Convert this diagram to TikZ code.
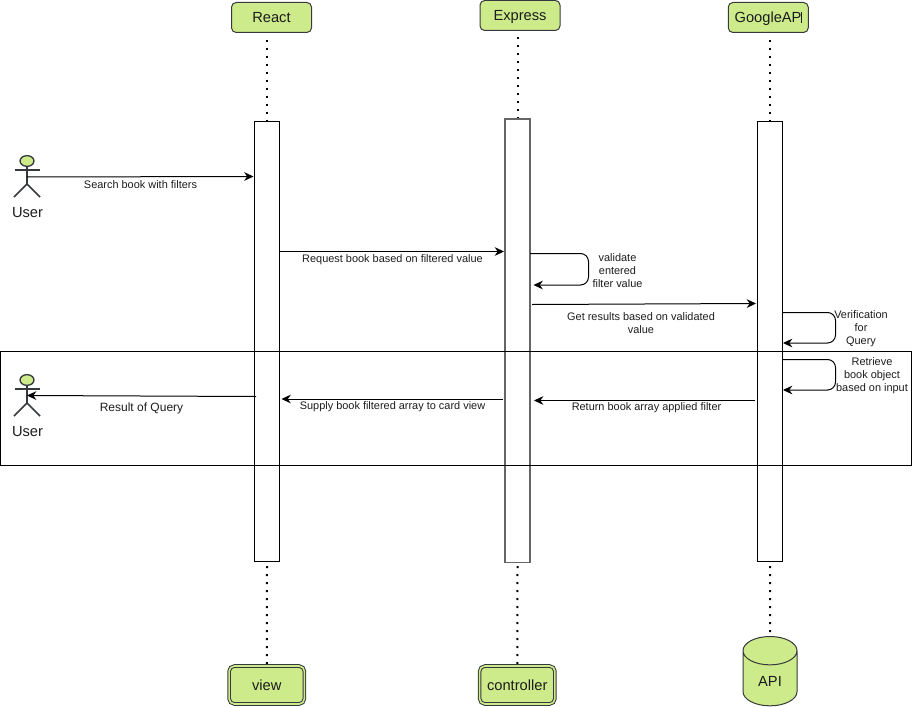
\documentclass[tikz,border=0pt]{standalone}
\usepackage{fontspec}
\setmainfont{Liberation Sans}
\usetikzlibrary{arrows.meta,shapes.geometric}
\definecolor{limefill}{HTML}{CDEB8B}
\definecolor{edgedark}{HTML}{36393D}
\definecolor{txt}{HTML}{1C1C1C}
\tikzset{
  px/.style={x=0.75pt,y=-0.75pt},
  base/.style={line width=0.75pt},
  head/.style={base,draw=edgedark,fill=limefill,rounded corners=3.5pt,minimum width=60pt,minimum height=22.5pt,inner sep=0pt,text=txt,font=\fontsize{11}{13}\selectfont,text height=8pt,text depth=0pt},
  tail/.style={base,draw=edgedark,fill=limefill,double=limefill,double distance=1.2pt,rounded corners=4pt,minimum width=56.5pt,minimum height=28.5pt,inner sep=0pt,text=txt,font=\fontsize{11}{13}\selectfont,text height=8pt,text depth=0pt},
  bar/.style={base,draw=black,fill=white,minimum width=18.75pt,inner sep=0pt,anchor=north},
  life/.style={line width=1.5pt,black,dash pattern=on 1.5pt off 4.5pt},
  msg/.style={base,black,-{Stealth[length=7pt,width=6.5pt]}},
  loopmsg/.style={msg,rounded corners=6pt},
  lab/.style={text=txt,font=\fontsize{8.2}{9.75}\selectfont,align=center,inner sep=0pt},
  stick/.style={line width=1.2pt,edgedark},
  actorname/.style={text=txt,font=\fontsize{11}{13}\selectfont,inner sep=0pt},
}
\begin{document}
\begin{tikzpicture}[px]
\useasboundingbox (0,0) rectangle (912,706);
% heads
\node[head] (react) at (271.5,17.5) {React};
\node[head] (express) at (520,15.5) {Express};
\node[head] (google) at (768.25,17.5) {GoogleAP\rule{0.3pt}{8pt}};
% activation bars
\node[bar,minimum height=329.6pt] (barR) at (267,121.5) {};
\node[bar,draw=black!60!white,line width=1pt,minimum height=332.6pt] (barE) at (517.5,118.5) {};
\node[bar,minimum height=329.6pt] (barG) at (770,121.5) {};
% tails
\node[tail] (view) at (266.75,685) {view};
\node[tail] (controller) at (517.25,685) {controller};
\node[cylinder,shape border rotate=90,aspect=1.2,base,draw=edgedark,fill=limefill,minimum width=40.5pt,minimum height=52pt,inner sep=0pt,text=txt,font=\fontsize{11}{13}\selectfont,text height=12pt,text depth=0pt] (api) at (770,678.5) {API};
% lifeline ends
\coordinate (rTop) at (267,40);
\coordinate (eTop) at (517.5,37);
\coordinate (gTop) at (770,40);
\coordinate (rLow) at (267,566);
\coordinate (eLow) at (517.5,566);
\coordinate (gLow) at (770,566);
\draw[life] (rTop) -- (barR.north);
\draw[life] (eTop) -- (barE.north);
\draw[life] (gTop) -- (barG.north);
\draw[life] (rLow) -- (view.north);
\draw[life] (eLow) -- (controller.north);
\draw[life] (gLow) -- (api.north);
% frame
\node[base,draw=black,minimum width=683.25pt,minimum height=85.5pt,inner sep=0pt] (frame) at (456,408.5) {};
% actors
\node[ellipse,line width=1pt,draw=edgedark,fill=limefill,minimum width=10.5pt,minimum height=8pt,inner sep=0pt] (u1) at (27,161) {};
\coordinate (u1arm1) at (14.5,170); \coordinate (u1arm2) at (39.5,170);
\coordinate (u1hip) at (27,184); \coordinate (u1leg1) at (14,197); \coordinate (u1leg2) at (40,197);
\draw[stick] (u1arm1) -- (u1arm2);
\draw[stick] (u1.south) -- (u1hip) -- (u1leg1);
\draw[stick] (u1hip) -- (u1leg2);
\node[actorname] (u1t) at (27.5,213) {User};
\node[ellipse,line width=1pt,draw=edgedark,fill=limefill,minimum width=10.5pt,minimum height=8pt,inner sep=0pt] (u2) at (27,380) {};
\coordinate (u2arm1) at (14.5,389); \coordinate (u2arm2) at (39.5,389);
\coordinate (u2hip) at (27,403); \coordinate (u2leg1) at (14,416); \coordinate (u2leg2) at (40,416);
\draw[stick] (u2arm1) -- (u2arm2);
\draw[stick] (u2.south) -- (u2hip) -- (u2leg1);
\draw[stick] (u2hip) -- (u2leg2);
\node[actorname] (u2t) at (27.5,432) {User};
% message ends
\coordinate (m1a) at (27,177); \coordinate (m1b) at (253.5,176.5);
\coordinate (m2a) at (279.5,251.5); \coordinate (m2b) at (504,251.5);
\coordinate (m3a) at (530,253.5); \coordinate (m3c1) at (588.5,253.5); \coordinate (m3c2) at (588.5,285); \coordinate (m3b) at (533.5,285);
\coordinate (m4a) at (532,304.5); \coordinate (m4b) at (756,303.5);
\coordinate (m5a) at (782.5,312.5); \coordinate (m5c1) at (835.5,312.5); \coordinate (m5c2) at (835.5,343); \coordinate (m5b) at (783,343);
\coordinate (m6a) at (782.5,359.5); \coordinate (m6c1) at (835.5,359.5); \coordinate (m6c2) at (835.5,390); \coordinate (m6b) at (783,390);
\coordinate (m7a) at (754.5,400.5); \coordinate (m7b) at (534,400.5);
\coordinate (m8a) at (503,399); \coordinate (m8b) at (281.5,399);
\coordinate (m9a) at (256,396.5); \coordinate (m9b) at (27,395.5);
\draw[msg] (m1a) -- (m1b);
\draw[msg] (m2a) -- (m2b);
\draw[loopmsg] (m3a) -- (m3c1) -- (m3c2) -- (m3b);
\draw[msg] (m4a) -- (m4b);
\draw[loopmsg] (m5a) -- (m5c1) -- (m5c2) -- (m5b);
\draw[loopmsg] (m6a) -- (m6c1) -- (m6c2) -- (m6b);
\draw[msg] (m7a) -- (m7b);
\draw[msg] (m8a) -- (m8b);
\draw[msg] (m9a) -- (m9b);
% labels
\node[lab] (l1) at (140.5,184.5) {Search book with filters};
\node[lab] (l2) at (392.5,260) {Request book based on filtered value};
\node[lab] (l3) at (617.5,270.5) {validate\\entered\\filter value};
\node[lab] (l4) at (641,323.5) {Get results based on validated\\value};
\node[lab] (l5) at (861,328.5) {Verification\\for\\Query};
\node[lab] (l6) at (872,375.5) {Retrieve\\book object\\based on input};
\node[lab] (l7) at (646.5,408) {Return book array applied filter};
\node[lab] (l8) at (392.5,407) {Supply book filtered array to card view};
\node[lab,font=\fontsize{9}{11}\selectfont] (l9) at (141.5,408.5) {Result of Query};
\end{tikzpicture}
\end{document}
